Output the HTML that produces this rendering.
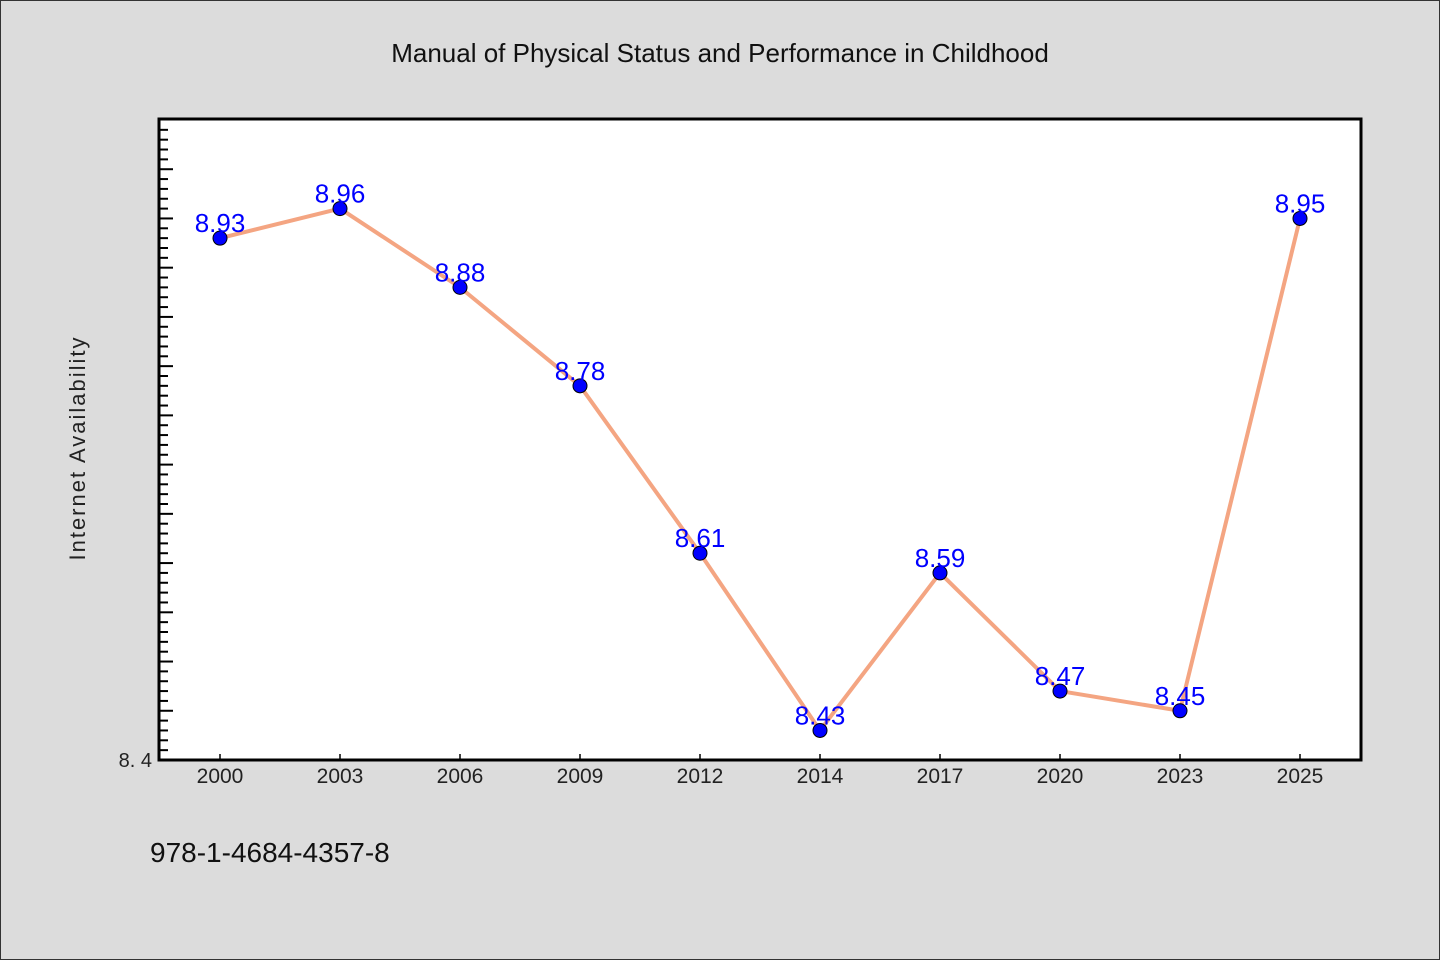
<!DOCTYPE html>
<html><head><meta charset="utf-8"><style>
html,body{margin:0;padding:0;background:#dcdcdc}
svg{display:block}
text{font-family:"WenQuanYi Zen Hei","Liberation Sans",sans-serif}
</style></head><body>
<svg id="chart" width="1440" height="960" viewBox="0 0 1440 960">
<rect x="0.5" y="0.5" width="1439" height="959" fill="#dcdcdc" stroke="#333"/>
<text x="720" y="62" text-anchor="middle" font-size="26" fill="#111">Manual of Physical Status and Performance in Childhood</text>
<rect x="159" y="119" width="1202" height="641" fill="#fff"/>
<g id="yticks"></g>
<g id="xticks"></g>
<g id="series"></g>
<rect x="159" y="119" width="1202" height="641" fill="none" stroke="#000" stroke-width="3"/>
<text x="152" y="767" text-anchor="end" font-size="20" fill="#222">8. 4</text>
<text transform="translate(85,448) rotate(-90)" text-anchor="middle" font-size="22" fill="#222" letter-spacing="2">Internet Availability</text>
<text x="150" y="862" font-size="28" fill="#111">978-1-4684-4357-8</text>
</svg>
<script>
const categories=["2000","2003","2006","2009","2012","2014","2017","2020","2023","2025"];
const values=[8.93,8.96,8.88,8.78,8.61,8.43,8.59,8.47,8.45,8.95];
const valueLabels=["8.93","8.96","8.88","8.78","8.61","8.43","8.59","8.47","8.45","8.95"];
const yMin=8.4, yMax=9.051;
const NS="http://www.w3.org/2000/svg";
const L=159,R=1361,T=119,B=760;
function x(i){return 220+i*(1300-220)/(categories.length-1);}
function y(v){return B-(v-yMin)/(yMax-yMin)*(B-T);}
function mk(tag,attrs,parent){const e=document.createElementNS(NS,tag);for(const k in attrs)e.setAttribute(k,attrs[k]);parent.appendChild(e);return e;}
const yt=document.getElementById('yticks');
for(let k=1;k<=65;k++){
  const v=yMin+k*0.01; const yy=y(v); if(yy<T+2)break;
  const major=k%5===0;
  const t=mk('line',{x1:L,x2:L+(major?14:9),y1:yy,y2:yy,stroke:'#000','stroke-width':2},yt);
  
  
}
const xt=document.getElementById('xticks');
categories.forEach((c,i)=>{
  const t=mk('line',{x1:x(i),x2:x(i),y1:B,y2:B-6,stroke:'#000','stroke-width':1.5},xt);
  
  
  const l=mk('text',{x:x(i),y:783,'text-anchor':'middle','font-size':21,fill:'#222'},xt);
  l.textContent=c;
  
  
});
const s=document.getElementById('series');
const pl=mk('polyline',{points:values.map((v,i)=>x(i)+','+y(v)).join(' '),fill:'none',stroke:'#f4a582','stroke-width':4,'stroke-linejoin':'round'},s);


values.forEach((v,i)=>{
  const c=mk('circle',{cx:x(i),cy:y(v),r:7,fill:'#0000ff',stroke:'#000','stroke-width':1},s);
  
  
  const t=mk('text',{x:x(i),y:y(v)-6,'text-anchor':'middle','font-size':26,fill:'#0000ff'},s);
  t.textContent=valueLabels[i];
  
  
});
</script>
</body></html>
